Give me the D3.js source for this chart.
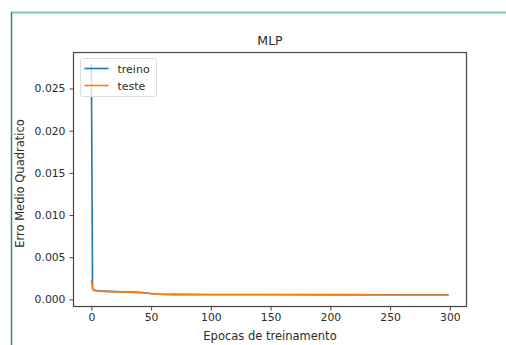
<!DOCTYPE html>
<html>
<head>
<meta charset="utf-8">
<script src="https://cdn.jsdelivr.net/npm/d3@7"></script>
<style>
  body { margin: 0; background: #fff; }
  svg { display: block; font-family: "DejaVu Sans", sans-serif; }
</style>
</head>
<body>
<svg id="chart" width="506" height="345"></svg>
<script>
const epochs = [0, 1, 2, 5, 10, 20, 30, 40, 45, 50, 55, 60, 70, 100, 150, 200, 250, 299];
// treino (training loss)
const treino = [0.0279, 0.0013, 0.00112, 0.00102, 0.00098, 0.00093, 0.00089, 0.00083, 0.00079, 0.00071,
                0.00065, 0.00061, 0.00060, 0.00059, 0.00058, 0.00057, 0.00056, 0.00056];
// teste (validation loss)
const teste = [0.00235, 0.0013, 0.00105, 0.00098, 0.00095, 0.00090, 0.00086, 0.00080, 0.00076, 0.00068,
               0.00062, 0.00058, 0.00057, 0.00056, 0.00055, 0.00054, 0.00053, 0.00053];
const xTicks = [0, 50, 100, 150, 200, 250, 300];
const yTicks = [0, 0.005, 0.010, 0.015, 0.020, 0.025];
const seriesNames = ['treino', 'teste'];
const colors = ['#1f77b4', '#ff7f0e'];

const svg = d3.select('#chart');

// screenshot frame (teal border lines)
svg.append('line').attr('x1', 11).attr('x2', 506).attr('y1', 12.5).attr('y2', 12.5)
    .attr('stroke', '#7cc6c0').attr('stroke-width', 2);
svg.append('line').attr('x1', 11.5).attr('x2', 11.5).attr('y1', 12).attr('y2', 345)
    .attr('stroke', '#2f8c85').attr('stroke-width', 1.5);

const plotL = 73.5, plotR = 466.5, plotT = 52.5, plotB = 306.5;

// matplotlib style 5% margins
const xMin = 0, xMax = 299;
const xPad = (xMax - xMin) * 0.05;
const x = d3.scaleLinear().domain([xMin - xPad, xMax + xPad]).range([plotL, plotR]);

const yLo = d3.min(teste.concat(treino)), yHi = d3.max(teste.concat(treino));
const yPad = (yHi - yLo) * 0.05;
const y = d3.scaleLinear().domain([yLo - yPad, yHi + yPad]).range([plotB, plotT]);

const textColor = '#2b2b2b';

// axes
const xAxis = svg.append('g')
    .attr('transform', 'translate(0,' + plotB + ')')
    .call(d3.axisBottom(x).tickValues(xTicks).tickSize(4).tickPadding(3).tickFormat(d3.format('d')));
const yAxis = svg.append('g')
    .attr('transform', 'translate(' + plotL + ',0)')
    .call(d3.axisLeft(y).tickValues(yTicks).tickSize(4).tickPadding(4).tickFormat(d3.format('.3f')));

[xAxis, yAxis].forEach(function(a) {
    a.select('.domain').remove();
    a.selectAll('.tick line').attr('stroke', '#444');
    a.selectAll('.tick text').attr('fill', textColor).style('font-size', '10.8px')
        .style('font-family', '"DejaVu Sans", sans-serif');
});

// lines
const line = d3.line().x((d, i) => x(epochs[i])).y(d => y(d));
[treino, teste].forEach(function(s, i) {
    svg.append('path')
        .datum(s)
        .attr('fill', 'none')
        .attr('stroke', colors[i])
        .attr('stroke-width', 1.6)
        .attr('d', line);
});

// frame
svg.append('rect')
    .attr('x', plotL).attr('y', plotT)
    .attr('width', plotR - plotL).attr('height', plotB - plotT)
    .attr('fill', 'none').attr('stroke', '#444').attr('stroke-width', 1.2);

// title
svg.append('text').attr('x', (plotL + plotR) / 2).attr('y', 45)
    .attr('text-anchor', 'middle').attr('fill', textColor)
    .style('font-size', '12.5px').text('MLP');

// axis labels
svg.append('text').attr('x', (plotL + plotR) / 2).attr('y', 340)
    .attr('text-anchor', 'middle').attr('fill', textColor)
    .style('font-size', '11.5px').text('Epocas de treinamento');
svg.append('text')
    .attr('transform', 'translate(24,' + ((plotT + plotB) / 2 + 4) + ') rotate(-90)')
    .attr('text-anchor', 'middle').attr('fill', textColor)
    .style('font-size', '11.5px').text('Erro Medio Quadratico');

// legend
const lg = svg.append('g').attr('transform', 'translate(80.5,58.5)');
lg.append('rect').attr('width', 76).attr('height', 38).attr('rx', 2)
    .attr('fill', '#fff').attr('fill-opacity', 0.8).attr('stroke', '#ddd');
seriesNames.forEach(function(name, i) {
    const yy = 10 + i * 17;
    lg.append('line').attr('x1', 4).attr('x2', 28).attr('y1', yy).attr('y2', yy)
        .attr('stroke', colors[i]).attr('stroke-width', 1.6);
    lg.append('text').attr('x', 37).attr('y', yy + 4).attr('fill', textColor)
        .style('font-size', '11px').text(name);
});
</script>
</body>
</html>
